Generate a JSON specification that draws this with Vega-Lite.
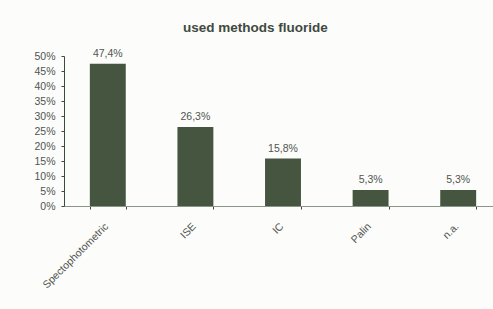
{
  "$schema": "https://vega.github.io/schema/vega-lite/v6.json",
  "autosize": "none",
  "width": 429,
  "height": 150,
  "padding": {"left": 64, "top": 56, "right": 0, "bottom": 103},
  "background": "#fcfcfa",
  "config": {
    "locale": {"number": {"decimal": ",", "thousands": ".", "grouping": [3], "currency": ["", " €"]}},
    "view": {"stroke": null},
    "font": "Liberation Sans"
  },
  "title": {
    "text": "used methods fluoride",
    "fontSize": 13.5,
    "fontWeight": "bold",
    "color": "#3f4a3f",
    "anchor": "start",
    "frame": "group",
    "dx": 119,
    "offset": 14
  },
  "data": {
    "values": [
      {"method": "Spectophotometric", "share": 0.474},
      {"method": "ISE", "share": 0.263},
      {"method": "IC", "share": 0.158},
      {"method": "Palin", "share": 0.053},
      {"method": "n.a.", "share": 0.053}
    ]
  },
  "encoding": {
    "x": {
      "field": "method",
      "type": "nominal",
      "sort": null,
      "scale": {"range": [0, 438], "paddingInner": 0.59, "paddingOuter": 0.295},
      "axis": {
        "title": null,
        "labelAngle": -45,
        "labelFontSize": 10.5,
        "labelColor": "#505550",
        "domainColor": "#8a948a",
        "tickColor": "#3f4a3f",
        "tickSize": 3,
        "tickBand": "extent",
        "labelPadding": 12,
        "labelOffset": -5
      }
    },
    "y": {
      "field": "share",
      "type": "quantitative",
      "scale": {"domain": [0, 0.5], "nice": false},
      "axis": {
        "title": null,
        "format": ".0%",
        "values": [0, 0.05, 0.1, 0.15, 0.2, 0.25, 0.3, 0.35, 0.4, 0.45, 0.5],
        "grid": false,
        "labelFontSize": 10.5,
        "labelColor": "#505550",
        "domainColor": "#3f4a3f",
        "tickColor": "#3f4a3f",
        "tickSize": 3,
        "labelPadding": 6
      }
    }
  },
  "layer": [
    {"mark": {"type": "bar", "color": "#455540"}},
    {
      "mark": {"type": "text", "baseline": "alphabetic", "dy": -7, "fontSize": 10.5, "color": "#505550"},
      "encoding": {"text": {"field": "share", "type": "quantitative", "format": ".1%"}}
    }
  ]
}
